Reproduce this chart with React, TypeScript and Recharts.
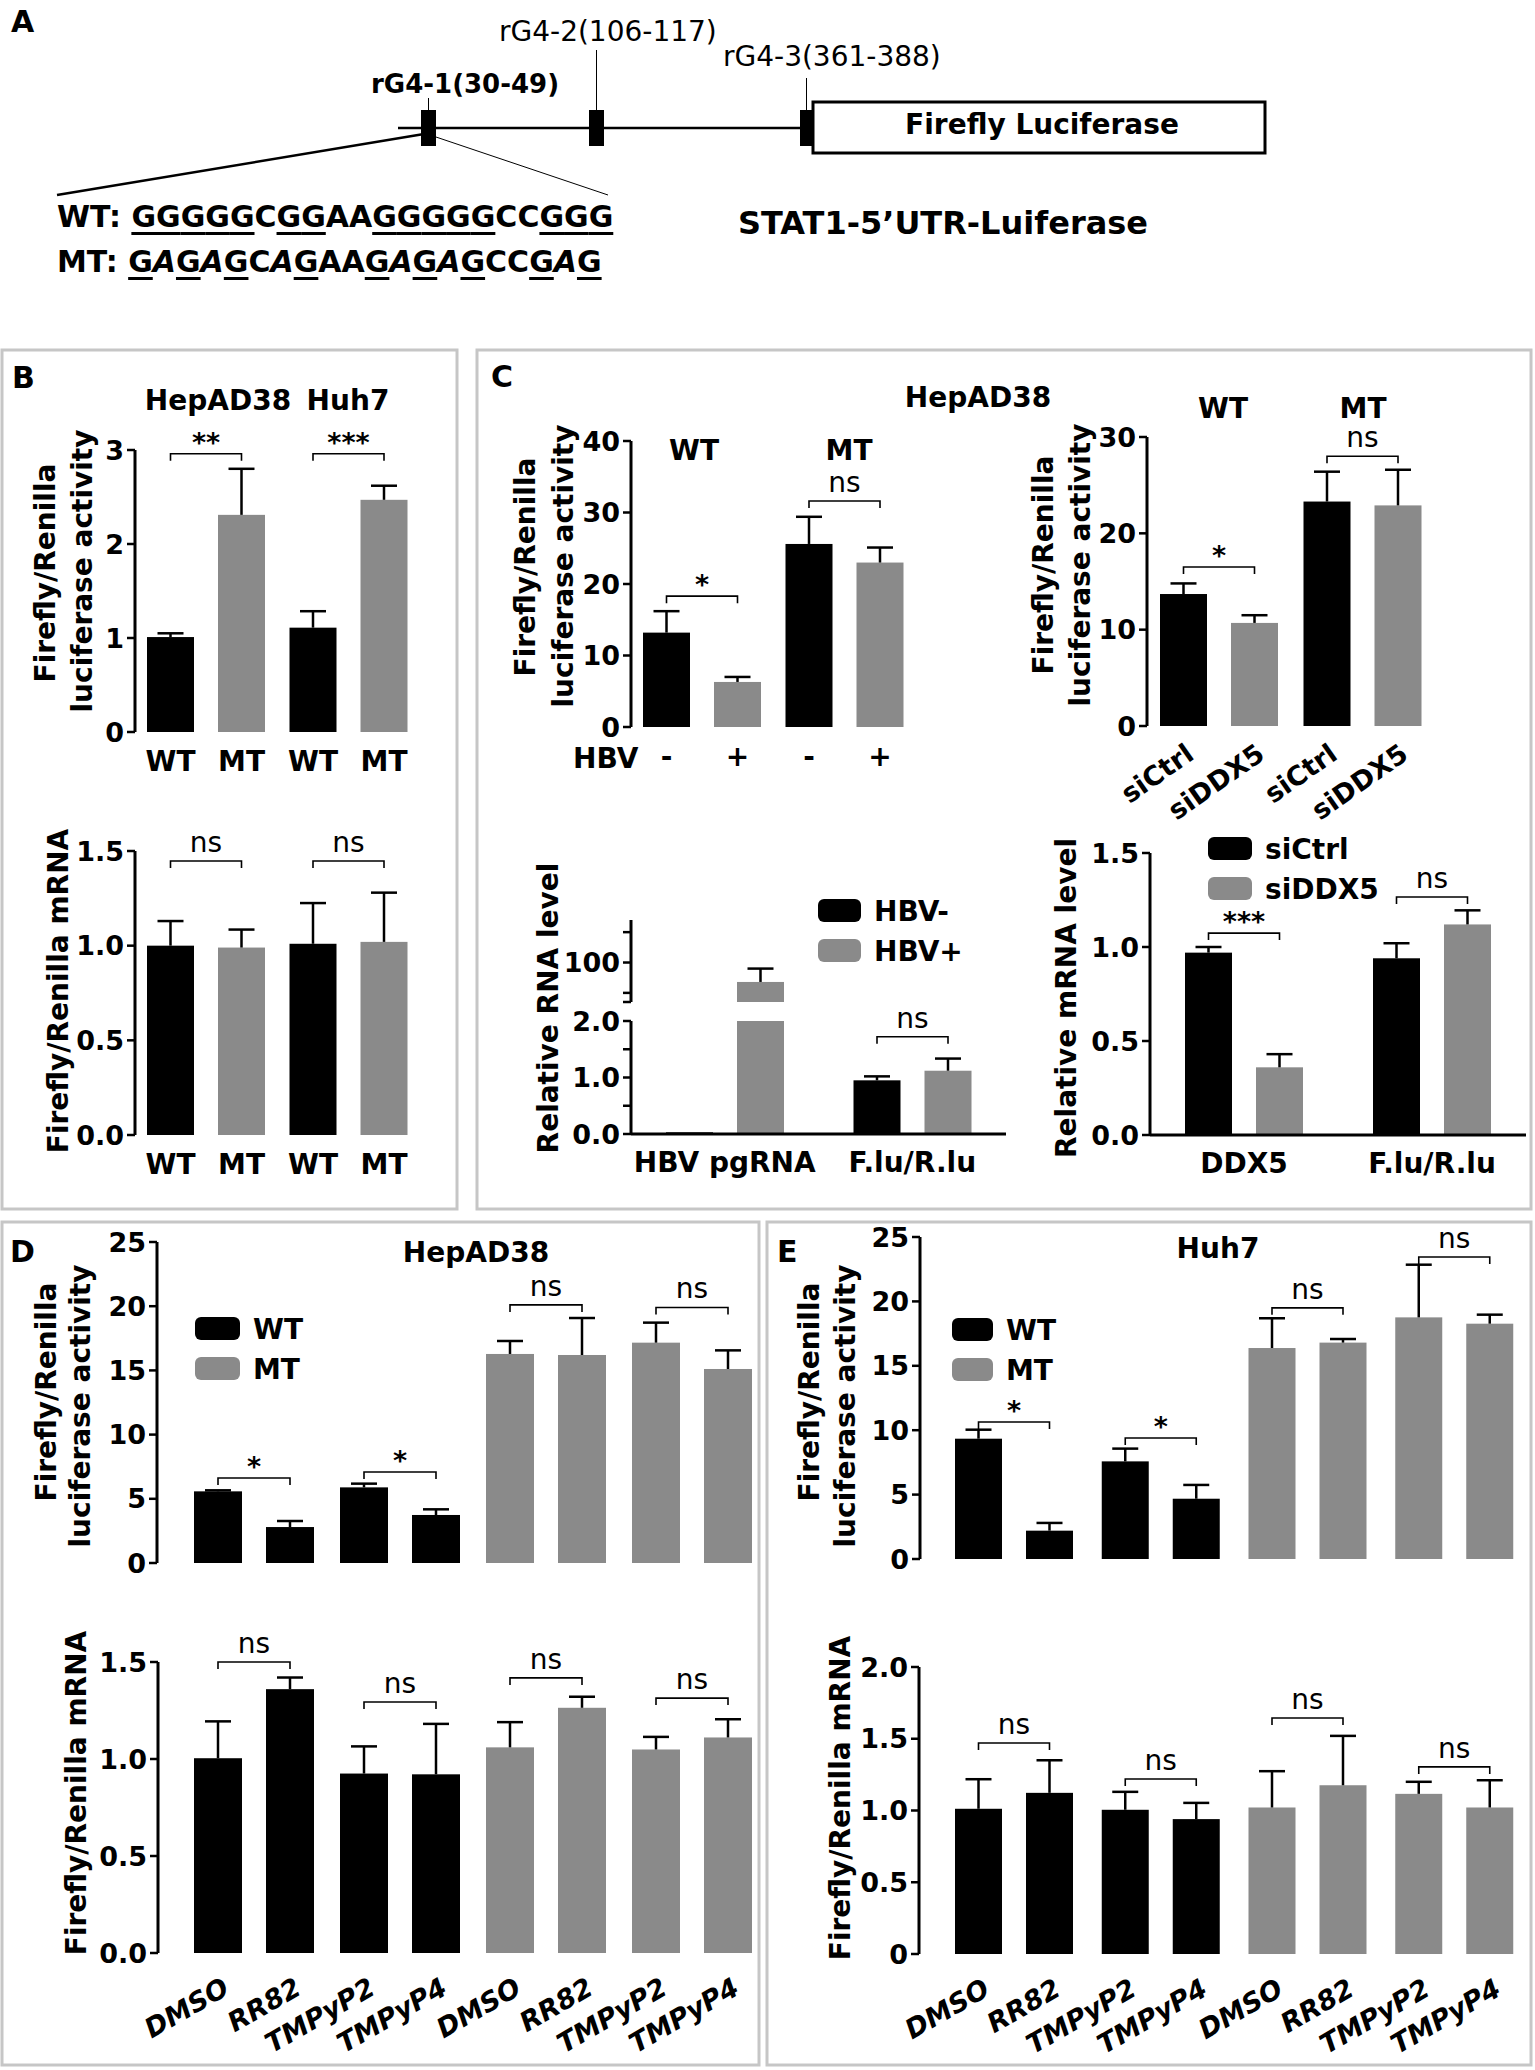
import React from 'react';
import { BarChart, Bar, XAxis, YAxis } from 'recharts';

const FONT = "'DejaVu Sans', 'Liberation Sans', sans-serif";
const INK = '#000000';
const GREY = '#8a8a8a';
const BORDER = '#c6c6c6';

// ---------- data ----------
// A: reporter construct
const rg4Sites = ['rG4-1(30-49)', 'rG4-2(106-117)', 'rG4-3(361-388)'];
const wtSeq = 'GGGGGCGGAAGGGGGCCGGG';
const mtSeq = 'GAGAGCAGAAGAGAGCCGAG';

// B: WT vs MT reporter in two cell lines
const bCells = ['HepAD38', 'Huh7'];
const bConstructs = ['WT', 'MT'];
const bLucValues = [1.01, 2.31, 1.11, 2.47];
const bLucErr = [0.04, 0.49, 0.175, 0.15];
const bLucSig = ['**', '***'];
const bLucSigY = [2.96, 2.96];
const bMrnaValues = [1.0, 0.99, 1.01, 1.02];
const bMrnaErr = [0.13, 0.095, 0.215, 0.26];
const bMrnaSig = ['ns', 'ns'];
const bMrnaSigY = [1.447, 1.447];

// C: HepAD38, HBV -/+ and siDDX5
const cHbvGroups = ['WT', 'MT'];
const cHbvStates = ['-', '+'];
const cHbvValues = [13.2, 6.3, 25.6, 23.0];
const cHbvErr = [3.0, 0.7, 3.8, 2.1];
const cHbvSig = ['*', 'ns'];
const cHbvSigY = [18.3, 31.6];

const cSiGroups = ['WT', 'MT'];
const cSiNames = ['siCtrl', 'siDDX5'];
const cSiValues = [13.7, 10.7, 23.3, 22.9];
const cSiErr = [1.1, 0.8, 3.1, 3.7];
const cSiSig = ['*', 'ns'];
const cSiSigY = [16.5, 28.0];

const cRnaTargets = ['HBV pgRNA', 'F.lu/R.lu'];
const cRnaSeries = ['HBV-', 'HBV+'];
const cRnaValues = [0.03, 68, 0.95, 1.12];
const cRnaErr = [0, 22, 0.07, 0.215];
const cRnaSig = ['', 'ns'];
const cRnaSigY = [0, 1.72];
const cRnaBreak = 2; // top of the lower segment of the broken axis

const cDdxTargets = ['DDX5', 'F.lu/R.lu'];
const cDdxSeries = ['siCtrl', 'siDDX5'];
const cDdxValues = [0.97, 0.36, 0.94, 1.12];
const cDdxErr = [0.03, 0.07, 0.08, 0.075];
const cDdxSig = ['***', 'ns'];
const cDdxSigY = [1.074, 1.266];

// D / E: G4 ligands
const treatments = ['DMSO', 'RR82', 'TMPyP2', 'TMPyP4'];
const constructs = ['WT', 'MT'];
const dLucValues = [5.58, 2.8, 5.89, 3.74, 16.28, 16.2, 17.16, 15.11];
const dLucErr = [0.08, 0.47, 0.29, 0.44, 1.01, 2.88, 1.56, 1.45];
const dLucSig = ['*', '*', 'ns', 'ns'];
const dLucSigY = [6.62, 7.09, 20.1, 19.9];
const dMrnaValues = [1.004, 1.36, 0.925, 0.921, 1.06, 1.264, 1.049, 1.111];
const dMrnaErr = [0.19, 0.06, 0.14, 0.26, 0.13, 0.057, 0.065, 0.094];
const dMrnaSig = ['ns', 'ns', 'ns', 'ns'];
const dMrnaSigY = [1.5, 1.294, 1.418, 1.314];
const eLucValues = [9.34, 2.2, 7.58, 4.68, 16.38, 16.8, 18.76, 18.27];
const eLucErr = [0.7, 0.6, 0.99, 1.07, 2.31, 0.28, 4.09, 0.7];
const eLucSig = ['*', '*', 'ns', 'ns'];
const eLucSigY = [10.64, 9.39, 19.5, 23.45];
const eMrnaValues = [1.012, 1.123, 1.005, 0.94, 1.021, 1.176, 1.116, 1.021];
const eMrnaErr = [0.206, 0.227, 0.125, 0.113, 0.253, 0.344, 0.084, 0.19];
const eMrnaSig = ['ns', 'ns', 'ns', 'ns'];
const eMrnaSigY = [1.47, 1.22, 1.645, 1.304];

// ---------- tables ----------
type Row = {
  cat: string;
  l: number | null; lErr: number; r: number | null; rErr: number;
  lName: string; rName: string; lColor: string; rColor: string;
  sig: string; sigY: number;
};

const seriesColor = [INK, GREY];
const constructColor: Record<string, string> = { WT: INK, MT: GREY };

function groupRows(cats: string[], names: string[], values: number[], errs: number[], sig: string[], sigY: number[]): Row[] {
  return cats.map((c, i) => ({
    cat: c,
    l: values[2 * i], lErr: errs[2 * i], r: values[2 * i + 1], rErr: errs[2 * i + 1],
    lName: names[0], rName: names[1], lColor: seriesColor[0], rColor: seriesColor[1],
    sig: sig[i], sigY: sigY[i],
  }));
}

function pairRows(values: number[], errs: number[], sig: string[], sigY: number[]): Row[] {
  const rows: Row[] = [];
  constructs.forEach((c, ci) => {
    [0, 1].forEach((p) => {
      const i = ci * 4 + p * 2;
      rows.push({
        cat: `${c}-${p}`,
        l: values[i], lErr: errs[i], r: values[i + 1], rErr: errs[i + 1],
        lName: treatments[p * 2], rName: treatments[p * 2 + 1],
        lColor: constructColor[c], rColor: constructColor[c],
        sig: sig[ci * 2 + p], sigY: sigY[ci * 2 + p],
      });
    });
  });
  return rows;
}

const cRnaRows = groupRows(cRnaTargets, cRnaSeries, cRnaValues, cRnaErr, cRnaSig, cRnaSigY);
// broken axis: lower part clamps at the break, upper part only keeps what passes it
const cRnaLower = cRnaRows.map((r) => ({
  ...r,
  l: Math.min(r.l as number, cRnaBreak), lErr: (r.l as number) > cRnaBreak ? 0 : r.lErr,
  r: Math.min(r.r as number, cRnaBreak), rErr: (r.r as number) > cRnaBreak ? 0 : r.rErr,
}));
const cRnaUpper = cRnaRows.map((r) => ({
  ...r,
  l: (r.l as number) > cRnaBreak ? r.l : null,
  r: (r.r as number) > cRnaBreak ? r.r : null,
  sig: '',
}));

// ---------- bar shape: bar + upper whisker + per-bar label + bracket ----------
type LabelMode = 'flat' | 'tilt' | 'tiltItalic' | 'none';

function barShape(side: 'l' | 'r', domain: [number, number], gap: number, mode: LabelMode) {
  const base = Math.max(domain[0], 0);
  return (props: any) => {
    const { x, y, width, height, payload } = props;
    const v = payload ? payload[side] : null;
    if (v == null || !Number.isFinite(y) || v <= base) return <g />;
    const k = height / (v - base);
    const zero = y + height;
    const toY = (u: number) => zero - (u - base) * k;
    const cx = x + width / 2;
    const err = payload[side + 'Err'] as number;
    const name = payload[side + 'Name'] as string;
    const color = payload[side + 'Color'] as string;

    let label = null;
    if (mode === 'flat') {
      label = (
        <text x={cx} y={zero + 39} textAnchor="middle" fontSize={28} fontWeight={700} fontFamily={FONT} fill={INK}>{name}</text>
      );
    } else if (mode === 'tilt' || mode === 'tiltItalic') {
      const italic = mode === 'tiltItalic';
      const ax = cx + (italic ? 13 : 12);
      const ay = zero + (italic ? 40 : 32);
      label = (
        <text x={ax} y={ay} textAnchor="end" fontSize={27} fontWeight={700}
          fontStyle={italic ? 'italic' : 'normal'} fontFamily={FONT} fill={INK}
          transform={`rotate(${italic ? -30 : -35} ${ax} ${ay})`}>{name}</text>
      );
    }

    let bracket = null;
    if (side === 'l' && payload.sig) {
      const by = toY(payload.sigY);
      const x2 = x + width + gap + width / 2;
      const star = payload.sig.includes('*');
      bracket = (
        <g>
          <path d={`M${cx},${by + 7} V${by} H${x2} V${by + 7}`} fill="none" stroke={INK} strokeWidth={1.6} />
          <text x={(cx + x2) / 2} y={star ? by - 2 : by - 9} textAnchor="middle" fontFamily={FONT}
            fontSize={star ? 27 : 28} fontWeight={star ? 700 : 400} fill={INK}>{payload.sig}</text>
        </g>
      );
    }

    return (
      <g>
        <rect x={x} y={y} width={width} height={Math.max(height, 2)} fill={color} />
        {err > 0 && (
          <g stroke={INK} strokeWidth={2.5}>
            <line x1={cx} y1={toY(v)} x2={cx} y2={toY(v + err)} />
            <line x1={cx - 13} y1={toY(v + err)} x2={cx + 13} y2={toY(v + err)} />
          </g>
        )}
        {label}
        {bracket}
      </g>
    );
  };
}

// ---------- chart ----------
const YW = 80;
const MT = 80;
const MB = 130;
const MR = 20;

type ChartProps = {
  rows: Row[];
  left: number; top: number; right: number; bottom: number;
  domain: [number, number]; ticks: number[]; fmt: (v: number) => string;
  barSize?: number; barGap?: number; padL?: number; padR?: number;
  labels?: LabelMode; catTicks?: boolean; noXAxis?: boolean;
};

const tickFont = { fill: INK, fontSize: 27, fontWeight: 700, fontFamily: FONT };

function PairChart(p: ChartProps) {
  const bs = p.barSize ?? 47;
  const gap = p.barGap ?? 24;
  const xh = p.catTicks ? 50 : 0;
  const width = YW + (p.right - p.left) + MR;
  const height = MT + (p.bottom - p.top) + xh + MB;
  const mode = p.labels ?? 'none';
  return (
    <div style={{ position: 'absolute', left: p.left - YW, top: p.top - MT }}>
      <BarChart width={width} height={height} data={p.rows} barSize={bs} barGap={gap}
        margin={{ top: MT, right: MR, bottom: MB, left: 0 }}>
        <XAxis dataKey="cat" hide={p.noXAxis} height={xh} interval={0} tickLine={false} tickSize={0} tickMargin={18}
          tick={p.catTicks ? { ...tickFont, fontSize: 28 } : false}
          axisLine={{ stroke: INK, strokeWidth: 3 }}
          padding={{ left: p.padL ?? 0, right: p.padR ?? 0 }} />
        <YAxis width={YW} domain={p.domain} ticks={p.ticks} tickFormatter={p.fmt} interval={0}
          tickSize={8} tickMargin={3} tick={tickFont}
          tickLine={{ stroke: INK, strokeWidth: 2.5 }} axisLine={{ stroke: INK, strokeWidth: 3 }} />
        <Bar dataKey="l" isAnimationActive={false} shape={barShape('l', p.domain, gap, mode)} />
        <Bar dataKey="r" isAnimationActive={false} shape={barShape('r', p.domain, gap, mode)} />
      </BarChart>
    </div>
  );
}

const int = (v: number) => String(v);
const one = (v: number) => v.toFixed(1);

// ---------- annotations ----------
function YLabel({ x, y, text }: { x: number; y: number; text: string }) {
  return (
    <text transform={`translate(${x},${y}) rotate(-90)`} textAnchor="middle" dominantBaseline="central"
      fontSize={28} fontWeight={700} fontFamily={FONT} fill={INK}>{text}</text>
  );
}

function Bold({ x, y, text, size = 28, anchor = 'middle' }: { x: number; y: number; text: string; size?: number; anchor?: string }) {
  return <text x={x} y={y} textAnchor={anchor as any} fontSize={size} fontWeight={700} fontFamily={FONT} fill={INK}>{text}</text>;
}

function LegendBox({ x, y, names, w = 44 }: { x: number; y: number; names: string[]; w?: number }) {
  return (
    <g>
      {names.map((n, i) => (
        <g key={n}>
          <rect x={x} y={y + i * 40} width={w} height={23} rx={6} fill={seriesColor[i]} />
          <Bold x={x + w + 13} y={y + i * 40 + 22} text={n} anchor="start" />
        </g>
      ))}
    </g>
  );
}

function Overlay() {
  const siteX = [421, 589, 800];
  const siteW = [15, 15, 13];
  const labelBottom = [98, 50, 78];
  return (
    <svg width={1535} height={2070} style={{ position: 'absolute', left: 0, top: 0 }}>
      {/* panel frames */}
      <rect x={2} y={350} width={455} height={859} fill="none" stroke={BORDER} strokeWidth={3} />
      <rect x={477} y={350} width={1054} height={859} fill="none" stroke={BORDER} strokeWidth={3} />
      <rect x={2} y={1222} width={757} height={843} fill="none" stroke={BORDER} strokeWidth={3} />
      <rect x={767} y={1222} width={764} height={843} fill="none" stroke={BORDER} strokeWidth={3} />

      {/* panel letters */}
      <Bold x={11} y={32} text="A" size={30} anchor="start" />
      <Bold x={12} y={388} text="B" size={30} anchor="start" />
      <Bold x={491} y={387} text="C" size={30} anchor="start" />
      <Bold x={10} y={1262} text="D" size={30} anchor="start" />
      <Bold x={777} y={1262} text="E" size={30} anchor="start" />

      {/* A: construct */}
      <line x1={398} y1={128} x2={813} y2={128} stroke={INK} strokeWidth={2.5} />
      <rect x={813} y={102} width={452} height={51} fill="#fff" stroke={INK} strokeWidth={3} />
      {siteX.map((sx, i) => (
        <g key={i}>
          <line x1={sx + siteW[i] / 2} y1={labelBottom[i]} x2={sx + siteW[i] / 2} y2={110} stroke={INK} strokeWidth={1} />
          <rect x={sx} y={110} width={siteW[i]} height={36} fill={INK} />
        </g>
      ))}
      <text x={371} y={93} fontSize={26} fontWeight={700} fontFamily={FONT}>{rg4Sites[0]}</text>
      <text x={499} y={41} fontSize={28} fontFamily={FONT}>{rg4Sites[1]}</text>
      <text x={723} y={66} fontSize={28} fontFamily={FONT}>{rg4Sites[2]}</text>
      <Bold x={1042} y={134} text="Firefly Luciferase" size={28} />
      <line x1={424} y1={134} x2={57} y2={195} stroke={INK} strokeWidth={2.5} />
      <line x1={433} y1={136} x2={608} y2={195} stroke={INK} strokeWidth={1} />
      <Bold x={1148} y={234} text="STAT1-5’UTR-Luiferase" size={32} anchor="end" />

      {/* B */}
      <Bold x={218} y={410} text={bCells[0]} />
      <Bold x={348} y={410} text={bCells[1]} />
      <YLabel x={45} y={573} text="Firefly/Renilla" />
      <YLabel x={82} y={571} text="luciferase activity" />
      <YLabel x={58} y={991} text="Firefly/Renilla mRNA" />

      {/* C */}
      <Bold x={978} y={407} text="HepAD38" />
      <Bold x={694} y={460} text={cHbvGroups[0]} />
      <Bold x={849} y={460} text={cHbvGroups[1]} />
      <Bold x={573} y={768} text="HBV" anchor="start" />
      <Bold x={1223} y={418} text={cSiGroups[0]} />
      <Bold x={1363} y={418} text={cSiGroups[1]} />
      <YLabel x={525} y={567} text="Firefly/Renilla" />
      <YLabel x={563} y={566} text="luciferase activity" />
      <YLabel x={1043} y={565} text="Firefly/Renilla" />
      <YLabel x={1080} y={565} text="luciferase activity" />
      <YLabel x={548} y={1008} text="Relative RNA level" />
      <YLabel x={1066} y={998} text="Relative mRNA level" />
      <LegendBox x={818} y={899} names={cRnaSeries} w={43} />
      <LegendBox x={1208} y={837} names={cDdxSeries} />

      {/* D */}
      <Bold x={476} y={1262} text="HepAD38" />
      <YLabel x={46} y={1392} text="Firefly/Renilla" />
      <YLabel x={80} y={1406} text="luciferase activity" />
      <YLabel x={76} y={1793} text="Firefly/Renilla mRNA" />
      <LegendBox x={195} y={1317} names={constructs} w={45} />

      {/* E */}
      <Bold x={1218} y={1258} text="Huh7" />
      <YLabel x={809} y={1392} text="Firefly/Renilla" />
      <YLabel x={845} y={1406} text="luciferase activity" />
      <YLabel x={840} y={1798} text="Firefly/Renilla mRNA" />
      <LegendBox x={952} y={1318} names={constructs} w={41} />
    </svg>
  );
}

function SeqRow({ label, seq, ref, top }: { label: string; seq: string; ref: string; top: number }) {
  return (
    <div style={{ position: 'absolute', left: 57, top, fontFamily: FONT, fontWeight: 700, fontSize: 30, lineHeight: '30px', whiteSpace: 'pre', color: INK }}>
      <span>{label} </span>
      {seq.split('').map((ch, i) => (
        <span key={i} style={{
          textDecoration: ch === 'G' ? 'underline' : 'none',
          textDecorationThickness: '3px',
          textUnderlineOffset: '5px',
          fontStyle: ch !== ref[i] ? 'italic' : 'normal',
        }}>{ch}</span>
      ))}
    </div>
  );
}

export default function App() {
  return (
    <div style={{ position: 'absolute', left: 0, top: 0, width: 1535, height: 2070, background: '#fff' }}>
      <Overlay />
      <SeqRow label="WT:" seq={wtSeq} ref={wtSeq} top={202} />
      <SeqRow label="MT:" seq={mtSeq} ref={wtSeq} top={247} />

      {/* B */}
      <PairChart rows={groupRows(bCells, bConstructs, bLucValues, bLucErr, bLucSig, bLucSigY)}
        left={135} top={450} right={420} bottom={732} domain={[0, 3]} ticks={[0, 1, 2, 3]} fmt={int} labels="flat" />
      <PairChart rows={groupRows(bCells, bConstructs, bMrnaValues, bMrnaErr, bMrnaSig, bMrnaSigY)}
        left={135} top={851} right={420} bottom={1135} domain={[0, 1.5]} ticks={[0, 0.5, 1, 1.5]} fmt={one} labels="flat" />

      {/* C */}
      <PairChart rows={groupRows(cHbvGroups, cHbvStates, cHbvValues, cHbvErr, cHbvSig, cHbvSigY)}
        left={631} top={441} right={916} bottom={727} domain={[0, 40]} ticks={[0, 10, 20, 30, 40]} fmt={int} labels="flat" />
      <PairChart rows={groupRows(cSiGroups, cSiNames, cSiValues, cSiErr, cSiSig, cSiSigY)}
        left={1147} top={437} right={1434} bottom={726} domain={[0, 30]} ticks={[0, 10, 20, 30]} fmt={int} labels="tilt" />
      <PairChart rows={cRnaUpper} left={631} top={920} right={1006} bottom={1002} domain={[35, 170]}
        ticks={[35, 50, 100, 150]} fmt={(v) => (v === 100 ? '100' : '')} noXAxis />
      <PairChart rows={cRnaLower} left={631} top={1021} right={1006} bottom={1134} domain={[0, 2]}
        ticks={[0, 0.5, 1, 1.5, 2]} fmt={(v) => (v % 1 === 0 ? v.toFixed(1) : '')} catTicks />
      <PairChart rows={groupRows(cDdxTargets, cDdxSeries, cDdxValues, cDdxErr, cDdxSig, cDdxSigY)}
        left={1150} top={853} right={1526} bottom={1135} domain={[0, 1.5]} ticks={[0, 0.5, 1, 1.5]} fmt={one} catTicks />

      {/* D */}
      <PairChart rows={pairRows(dLucValues, dLucErr, dLucSig, dLucSigY)} left={157} top={1242} right={754} bottom={1563}
        domain={[0, 25]} ticks={[0, 5, 10, 15, 20, 25]} fmt={int} barSize={48} barGap={24} padL={24} padR={-11} />
      <PairChart rows={pairRows(dMrnaValues, dMrnaErr, dMrnaSig, dMrnaSigY)} left={158} top={1662} right={754} bottom={1953}
        domain={[0, 1.5]} ticks={[0, 0.5, 1, 1.5]} fmt={one} barSize={48} barGap={24} padL={23} padR={-11} labels="tiltItalic" />

      {/* E */}
      <PairChart rows={pairRows(eLucValues, eLucErr, eLucSig, eLucSigY)} left={920} top={1237} right={1516} bottom={1559}
        domain={[0, 25]} ticks={[0, 5, 10, 15, 20, 25]} fmt={int} barSize={47} barGap={24} padL={21} padR={-12} />
      <PairChart rows={pairRows(eMrnaValues, eMrnaErr, eMrnaSig, eMrnaSigY)} left={919} top={1667} right={1516} bottom={1954}
        domain={[0, 2]} ticks={[0, 0.5, 1, 1.5, 2]} fmt={(v) => (v === 0 ? '0' : v.toFixed(1))} barSize={47} barGap={24}
        padL={22} padR={-12} labels="tiltItalic" />
    </div>
  );
}
